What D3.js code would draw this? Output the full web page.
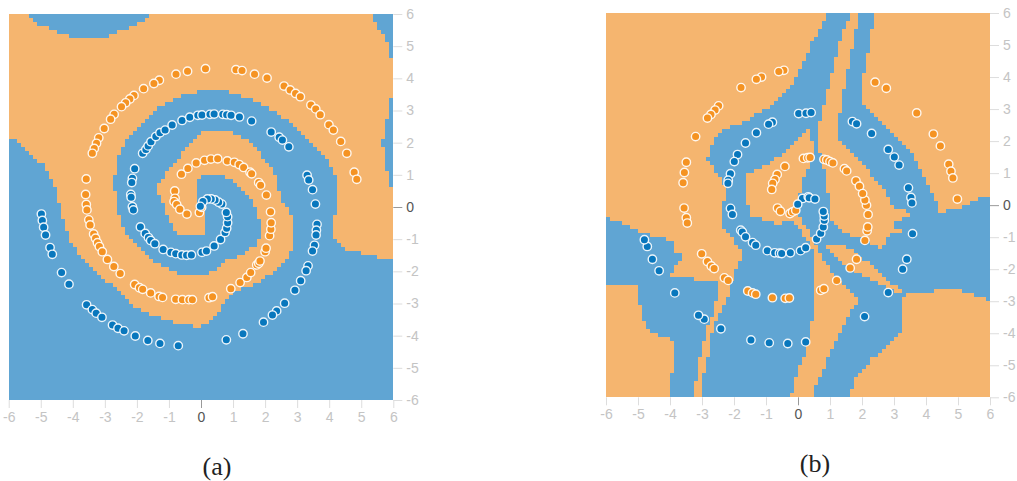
<!DOCTYPE html>
<html>
<head>
<meta charset="utf-8">
<script src="https://cdn.jsdelivr.net/npm/d3@7"></script>
<style>
  html, body { margin: 0; padding: 0; background: #fff; }
  svg { display: block; }
  .tick text { font-family: "Liberation Sans", Arial, sans-serif; font-size: 14px; }
  .cells { filter: blur(0.45px); }
  .cell { shape-rendering: crispEdges; }
  .caption { font-family: "Liberation Serif", serif; font-size: 26px; fill: #222; text-anchor: middle; }
</style>
</head>
<body>
<div id="chart"></div>
<script>
const tickValues = [-6, -5, -4, -3, -2, -1, 0, 1, 2, 3, 4, 5, 6];

// Panel (a): decision regions, later polygons paint over earlier ones
const aOrangeRegion = [[-6.1,6.1],[6.1,6.1],[6.1,-1.55],[5.65,-1.7],[5.5,-1.55],[4.56,-1.34],[4.18,-0.93],[4.12,-0.5],[4.27,0.12],[4.27,0.75],[3.96,1.46],[3.4,2.08],[2.68,2.7],[2.06,3.11],[1.44,3.39],[0.81,3.58],[-0.03,3.6],[-0.75,3.39],[-1.37,3.08],[-1.9,2.6],[-2.37,2.08],[-2.65,1.46],[-2.72,0.7],[-2.62,0],[-2.43,-0.65],[-2.12,-1.12],[-1.69,-1.55],[-1.18,-1.87],[-0.65,-2.12],[-0.03,-2.17],[0.37,-2.02],[0.75,-1.7],[1.31,-1.5],[1.78,-1.12],[1.9,-0.62],[1.78,-0.31],[1.62,0.22],[1.31,0.53],[0.9,0.9],[0.5,1.06],[-0.03,1.06],[-0.15,0.6],[-0.1,0.22],[0.1,-0.1],[0.06,-0.93],[-0.6,-0.93],[-0.81,-0.78],[-1.06,-0.31],[-1.18,0.12],[-1.44,0.53],[-1.18,0.93],[-0.75,1.46],[-0.45,1.87],[-0.03,2.3],[0.5,2.4],[1.0,2.33],[1.58,2.0],[1.94,1.55],[2.25,1.15],[2.53,0.22],[2.84,-0.31],[2.87,-1.12],[2.72,-1.65],[2.37,-1.96],[1.75,-2.36],[1.0,-2.68],[0.69,-3],[0.44,-3.42],[-0.03,-3.73],[-0.75,-3.58],[-1.37,-3.42],[-2.12,-3.05],[-2.62,-2.58],[-3.15,-2.17],[-3.68,-1.65],[-4.15,-0.93],[-4.3,-0.4],[-4.46,0.22],[-4.6,0.75],[-4.87,1.25],[-5.25,1.62],[-5.65,2.0],[-6.1,2.18]];
const aBlueTop = [[-5.44,6.1],[-5.25,5.8],[-5.03,5.66],[-4.46,5.44],[-4.03,5.28],[-2.94,5.28],[-2.43,5.5],[-1.9,5.72],[-1.44,6.1]];
const aBlueCorner = [[5.27,6.1],[5.49,5.66],[5.68,5.34],[5.9,4.97],[5.93,4.57],[6.1,4.57],[6.1,6.1]];
const aBlueSliver = [[6.1,3.39],[5.9,3.39],[5.9,2.92],[5.75,2.6],[5.67,2.0],[5.78,1.36],[5.9,0.62],[6.1,0.55]];

const aOrangeDots = [[-0.78,4.13],[-0.42,4.22],[0.14,4.30],[-1.30,3.94],[-1.47,3.84],[-1.79,3.68],[-2.09,3.47],[-2.22,3.36],[-2.35,3.24],[-2.48,3.12],[-2.71,2.88],[-2.82,2.73],[-3.02,2.44],[-3.19,2.15],[-3.26,1.98],[-3.33,1.82],[-3.39,1.67],[-3.58,0.87],[-3.60,0.39],[-3.58,0.08],[-3.56,-0.09],[-3.50,-0.40],[-3.46,-0.56],[-3.35,-0.84],[-3.29,-0.97],[-3.23,-1.11],[-3.17,-1.23],[-3.08,-1.39],[-2.92,-1.63],[-2.72,-1.85],[-2.52,-2.07],[-2.07,-2.41],[-1.92,-2.51],[-1.82,-2.56],[-1.57,-2.67],[-1.31,-2.78],[-1.20,-2.81],[-0.79,-2.87],[-0.58,-2.88],[-0.38,-2.88],[-0.27,-2.88],[0.25,-2.82],[0.36,-2.79],[0.93,-2.54],[1.22,-2.35],[1.43,-2.19],[1.55,-2.04],[1.74,-1.80],[1.80,-1.75],[1.84,-1.68],[2.0,-1.39],[2.03,-1.28],[2.14,-0.89],[2.18,-0.69],[2.19,-0.49],[2.17,-0.15],[1.09,4.27],[1.28,4.24],[1.67,4.13],[2.06,4.01],[2.59,3.76],[2.78,3.64],[2.95,3.53],[3.10,3.43],[3.43,3.17],[3.58,3.05],[3.72,2.87],[3.99,2.56],[4.13,2.39],[4.36,2.04],[4.55,1.67],[4.78,1.08],[4.86,0.86],[0.11,1.45],[0.31,1.49],[0.52,1.50],[0.82,1.43],[1.04,1.39],[1.19,1.32],[1.33,1.23],[1.53,1.08],[1.58,1.03],[1.80,0.76],[1.86,0.68],[2.04,0.37],[-0.61,1.02],[-0.41,1.20],[-0.15,1.37],[-0.82,0.50],[-0.81,0.27],[-0.84,0.17],[-0.76,0.08],[-0.66,-0.07],[-0.44,-0.22],[-0.05,-0.17],[0.02,-0.01]];
const aBlueDots = [[-2.07,1.19],[-2.14,0.89],[-2.16,0.76],[-2.19,0.39],[-2.18,0.30],[-2.14,0.01],[-2.11,-0.09],[-1.82,1.67],[-1.72,1.79],[-1.65,1.90],[-1.56,2.03],[-1.41,2.19],[-1.28,2.31],[-1.12,2.39],[-0.90,2.55],[-0.59,2.69],[-0.35,2.79],[-0.10,2.85],[0.03,2.86],[0.28,2.88],[0.41,2.89],[0.68,2.88],[0.80,2.87],[0.94,2.85],[1.20,2.80],[1.58,2.67],[2.19,2.33],[2.44,2.17],[2.54,2.08],[2.74,1.87],[3.31,0.99],[3.36,0.84],[3.48,0.54],[3.57,0.09],[3.62,-0.54],[3.60,-0.72],[3.59,-0.87],[3.54,-1.19],[3.48,-1.37],[3.34,-1.83],[3.28,-1.98],[3.11,-2.29],[2.93,-2.59],[2.61,-2.99],[2.36,-3.23],[2.23,-3.36],[1.95,-3.58],[1.31,-3.94],[0.79,-4.13],[-4.98,-0.22],[-4.95,-0.42],[-4.91,-0.63],[-4.85,-0.87],[-4.71,-1.26],[-4.64,-1.47],[-4.35,-2.04],[-4.12,-2.40],[-3.57,-3.04],[-3.39,-3.19],[-3.27,-3.30],[-3.09,-3.43],[-2.76,-3.67],[-2.59,-3.77],[-2.40,-3.85],[-2.05,-4.01],[-1.66,-4.15],[-1.28,-4.24],[-0.71,-4.31],[-1.89,-0.62],[-1.74,-0.82],[-1.64,-0.95],[-1.57,-1.04],[-1.44,-1.14],[-1.18,-1.32],[-0.94,-1.41],[-0.79,-1.45],[-0.60,-1.49],[-0.45,-1.50],[-0.30,-1.49],[0.03,-1.41],[0.17,-1.37],[0.41,-1.21],[0.61,-1.01],[0.75,-0.79],[0.80,-0.66],[0.83,-0.49],[0.83,-0.30],[0.79,-0.17],[0.65,0.09],[0.55,0.15],[0.44,0.22],[0.32,0.25],[0.2,0.25],[0.06,0.17],[-0.02,0.02]];

// Panel (b): decision regions
const bBlueMain = [[0.95,6.1],[2.41,6.1],[2.3,5.36],[2.2,4.84],[2.04,4.01],[2.04,3.18],[2.56,2.6],[3.19,2.03],[3.5,1.72],[3.86,1.09],[4.23,0.26],[4.44,-0.21],[5.06,-0.1],[5.38,0.05],[5.69,0.24],[6.1,0.2],[6.1,-3.02],[5.46,-2.8],[4.94,-2.59],[4.47,-2.6],[4.36,-2.53],[4.26,-2.76],[3.32,-2.81],[3.25,-2.92],[3.25,-3.96],[2.28,-4.84],[1.81,-5.42],[1.55,-6.1],[-3.01,-6.1],[-2.96,-5.36],[-2.8,-4.64],[-2.7,-4.0],[-2.44,-3.39],[-2.18,-2.86],[-2.07,-2.34],[-1.81,-1.72],[-1.81,-1.35],[-2.02,-1.09],[-2.17,-0.83],[-2.41,-0.63],[-2.41,-0.05],[-2.18,0.26],[-2.44,0.89],[-2.85,1.41],[-2.69,1.93],[-2.49,2.24],[-2.23,2.4],[-1.6,2.6],[-1.19,2.92],[-0.72,3.18],[-0.15,3.85],[0.06,4.22],[0.48,5.16],[0.84,5.78]];
const bBlueLeft = [[-6.1,-0.36],[-5.56,-0.52],[-5.15,-0.73],[-4.63,-0.94],[-3.84,-1.15],[-3.94,-1.41],[-3.6,-1.56],[-3.69,-1.77],[-4.05,-2.22],[-3.27,-2.29],[-3.22,-2.43],[-2.75,-2.4],[-2.49,-2.29],[-2.54,-2.86],[-2.65,-3.39],[-2.85,-3.9],[-3.0,-4.53],[-3.1,-4.95],[-3.2,-5.52],[-3.25,-6.1],[-3.96,-6.1],[-3.97,-5.31],[-3.89,-5.26],[-3.89,-4.22],[-4.5,-4.01],[-4.8,-3.7],[-4.95,-3.07],[-5.06,-2.55],[-6.1,-2.53]];
const bOrangeCentre = [[-1.6,0.94],[-0.88,1.3],[-0.09,1.93],[0.32,2.4],[0.32,2.03],[0.58,1.87],[0.38,1.30],[0.17,0.89],[0.06,0.36],[-0.04,0.31],[0.0,0.1],[0.05,-0.2],[0.06,-0.36],[0.27,-0.73],[0.48,-1.09],[0.74,-1.56],[1.0,-2.03],[1.42,-2.45],[1.94,-2.97],[1.63,-3.39],[1.31,-3.95],[1.0,-4.64],[0.69,-5.36],[0.38,-6.1],[-0.25,-6.1],[-0.09,-5.47],[0.06,-5.0],[0.28,-4.5],[0.38,-3.7],[0.48,-3.59],[0.48,-1.46],[0.375,-1.2],[0.22,-0.99],[-0.04,-0.57],[-0.25,-0.55],[-0.72,-0.57],[-1.19,-0.42],[-1.55,-0.31]];
const bOrangeIsland = [[1.68,6.1],[1.94,6.1],[1.73,5.05],[1.42,3.59],[1.21,2.24],[1.26,2.03],[1.83,1.51],[2.25,0.99],[2.67,0.47],[3.03,-0.16],[3.19,-0.1],[3.5,-0.31],[3.14,-0.47],[2.82,-0.63],[3.24,-0.83],[2.93,-0.89],[2.51,-1.41],[2.41,-1.25],[1.89,-1.04],[1.42,-0.83],[1.0,-0.47],[0.95,-0.16],[0.95,0.36],[0.79,1.2],[0.63,1.77],[0.58,1.93],[0.64,2.34],[0.79,3.07],[1.0,3.9],[1.21,4.74],[1.47,5.57]];
const bOrangeStrip = [[0.84,-1.25],[1.42,-1.25],[1.94,-1.61],[2.41,-1.98],[2.98,-2.5],[3.4,-2.81],[2.87,-2.66],[2.35,-2.34],[1.94,-2.16],[1.42,-1.82],[1.0,-1.41]];

const bOrangeDots = [[-0.44,4.21],[-0.60,4.17],[-1.14,4.0],[-1.30,3.93],[-1.78,3.67],[-2.48,3.10],[-2.59,2.97],[-2.72,2.83],[-2.83,2.72],[-3.20,2.14],[-3.49,1.34],[-3.55,1.02],[-3.59,0.70],[-3.56,-0.09],[-3.49,-0.39],[-3.46,-0.56],[-3.01,-1.52],[-2.83,-1.76],[-2.71,-1.90],[-2.62,-1.98],[-2.30,-2.27],[-2.18,-2.35],[-1.57,-2.68],[-1.42,-2.74],[-1.32,-2.78],[-0.80,-2.89],[-0.40,-2.91],[-0.27,-2.90],[0.71,-2.66],[0.81,-2.61],[1.21,-2.35],[1.63,-1.96],[1.83,-1.69],[2.09,-1.10],[2.16,-0.80],[2.18,-0.68],[2.19,-0.29],[2.14,0.0],[2.09,0.16],[4.98,0.19],[2.41,3.84],[2.76,3.65],[3.71,2.88],[4.23,2.22],[4.45,1.85],[4.71,1.28],[4.78,1.06],[4.84,0.85],[0.17,1.46],[0.30,1.48],[0.38,1.49],[0.81,1.43],[0.90,1.41],[1.0,1.36],[1.09,1.32],[1.45,1.14],[1.52,1.07],[1.81,0.76],[1.92,0.59],[2.02,0.36],[-0.41,1.21],[-0.65,0.96],[-0.72,0.80],[-0.79,0.68],[-0.82,0.49],[-0.64,-0.09],[-0.55,-0.19],[-0.25,-0.26],[-0.17,-0.21],[-0.07,-0.16]];
const bBlueDots = [[0.02,2.86],[0.25,2.87],[0.41,2.89],[-0.80,2.59],[-0.92,2.53],[-1.30,2.26],[-1.64,1.94],[-1.89,1.58],[-1.99,1.36],[-2.11,0.98],[-2.18,0.78],[-2.19,0.68],[-2.11,-0.10],[-2.05,-0.29],[-1.79,-0.78],[-1.74,-0.84],[-1.64,-0.99],[-1.42,-1.17],[-1.32,-1.25],[-0.96,-1.42],[-0.73,-1.49],[-0.58,-1.50],[-0.51,-1.51],[-0.24,-1.49],[0.08,-1.42],[0.24,-1.33],[0.58,-1.06],[0.71,-0.88],[0.79,-0.68],[0.82,-0.47],[0.82,-0.34],[0.79,-0.20],[0.14,0.21],[-0.01,0.03],[0.32,0.26],[0.35,0.23],[0.53,0.19],[1.70,2.61],[1.83,2.54],[2.30,2.24],[2.82,1.74],[3.01,1.50],[3.16,1.25],[3.45,0.54],[3.53,0.24],[3.56,0.07],[3.58,-0.89],[3.40,-1.69],[3.27,-2.0],[2.82,-2.73],[2.08,-3.48],[0.24,-4.27],[-0.32,-4.32],[-0.90,-4.30],[-1.47,-4.21],[-2.41,-3.86],[-2.93,-3.56],[-3.11,-3.44],[-3.85,-2.74],[-4.34,-2.05],[-4.55,-1.69],[-4.71,-1.29],[-4.80,-1.08]];

const orangeFill = '#f5b56f', blueFill = '#60a5d3';
const orangeDot = '#f59322', blueDot = '#0877bd';

const panels = [
    {
        caption: '(a)', capX: 217, capY: 475,
        left: 8.7, right: 393.3, top: 14, bottom: 400,
        background: blueFill,
        regions: [
            { poly: aOrangeRegion, fill: orangeFill },
            { poly: aBlueTop, fill: blueFill },
            { poly: aBlueCorner, fill: blueFill },
            { poly: aBlueSliver, fill: blueFill }
        ],
        orange: aOrangeDots, blue: aBlueDots
    },
    {
        caption: '(b)', capX: 815, capY: 472,
        left: 606, right: 990, top: 13, bottom: 397.3,
        background: orangeFill,
        regions: [
            { poly: bBlueMain, fill: blueFill },
            { poly: bBlueLeft, fill: blueFill },
            { poly: bOrangeCentre, fill: orangeFill },
            { poly: bOrangeIsland, fill: orangeFill },
            { poly: bOrangeStrip, fill: orangeFill }
        ],
        orange: bOrangeDots, blue: bBlueDots
    }
];

const svg = d3.select('#chart').append('svg')
    .attr('width', 1017)
    .attr('height', 481);

// heatmap resolution of the playground canvas
const cellCount = 96;
const cellStep = 12 / cellCount;
const cellCentres = d3.range(cellCount).map(i => -6 + (i + 0.5) * cellStep);

panels.forEach(p => {
    const x = d3.scaleLinear().domain([-6, 6]).range([p.left, p.right]);
    const y = d3.scaleLinear().domain([6, -6]).range([p.top, p.bottom]);
    const g = svg.append('g');

    // the last region holding a cell's centre decides its colour
    const cells = d3.cross(cellCentres, cellCentres).map(([cx, cy]) => {
        let fill = p.background;
        p.regions.forEach(r => {
            if (d3.polygonContains(r.poly, [cx, cy])) fill = r.fill;
        });
        return { cx, cy, fill };
    });

    g.append('g').attr('class', 'cells').selectAll('.cell')
        .data(cells)
        .enter().append('rect')
        .attr('class', 'cell')
        .attr('x', d => x(d.cx - cellStep / 2))
        .attr('y', d => y(d.cy + cellStep / 2))
        .attr('width', x(cellStep) - x(0))
        .attr('height', y(0) - y(cellStep))
        .attr('fill', d => d.fill);

    const right = g.append('g')
        .attr('transform', `translate(${p.right}, 0)`)
        .call(d3.axisRight(y).tickValues(tickValues).tickSize(9).tickPadding(4).tickFormat(d3.format('d')));
    const bottom = g.append('g')
        .attr('transform', `translate(0, ${p.bottom})`)
        .call(d3.axisBottom(x).tickValues(tickValues).tickSize(8).tickPadding(4).tickFormat(d3.format('d')));

    [right, bottom].forEach(axis => {
        axis.select('.domain').remove();
        axis.selectAll('.tick line').attr('stroke', d => d === 0 ? '#999' : '#ddd');
        axis.selectAll('.tick text').attr('fill', d => d === 0 ? '#555' : '#c4c4c4')
            .text(d => String(d));
    });

    const drawDots = (dots, color) => {
        g.append('g').selectAll('circle')
            .data(dots)
            .enter().append('circle')
            .attr('cx', d => x(d[0]))
            .attr('cy', d => y(d[1]))
            .attr('r', 4.2)
            .attr('fill', color)
            .attr('stroke', '#fff')
            .attr('stroke-opacity', 0.9)
            .attr('stroke-width', 1.4);
    };
    drawDots(p.orange, orangeDot);
    drawDots(p.blue, blueDot);

    svg.append('text')
        .attr('class', 'caption')
        .attr('x', p.capX)
        .attr('y', p.capY)
        .text(p.caption);
});
</script>
</body>
</html>
